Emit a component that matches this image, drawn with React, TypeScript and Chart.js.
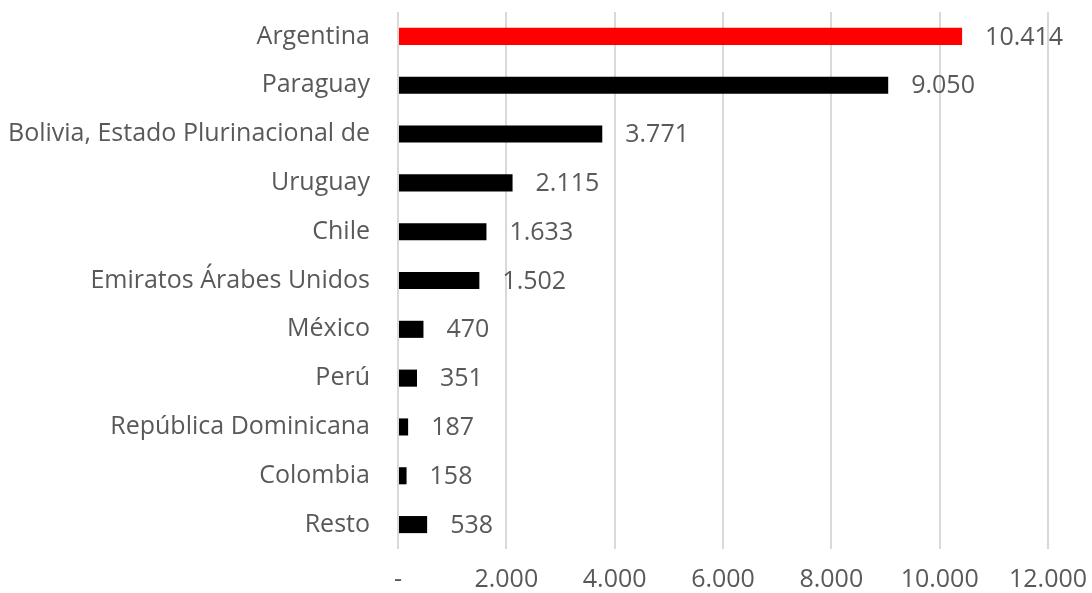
import React, { useEffect, useRef } from "react";
import { Chart, registerables } from "chart.js";

Chart.register(...registerables);

const categories = [
  "Argentina",
  "Paraguay",
  "Bolivia, Estado Plurinacional de",
  "Uruguay",
  "Chile",
  "Emiratos Árabes Unidos",
  "México",
  "Perú",
  "República Dominicana",
  "Colombia",
  "Resto",
];
const values = [10414, 9050, 3771, 2115, 1633, 1502, 470, 351, 187, 158, 538];
const barColors = ["#ff0000", "#000000", "#000000", "#000000", "#000000", "#000000", "#000000", "#000000", "#000000", "#000000", "#000000"];
const xMin = 0;
const xMax = 12000;
const xStep = 2000;

const fmt = (v: number) => {
  if (v === 0) return "-";
  return String(Math.round(v)).replace(/\B(?=(\d{3})+(?!\d))/g, ".");
};

const FONT = "'Open Sans', sans-serif";
const FSIZE = 25;
const TEXT = "#595959";

const valueLabels = {
  id: "valueLabels",
  afterDatasetsDraw(chart: any) {
    const ctx = chart.ctx;
    const meta = chart.getDatasetMeta(0);
    ctx.save();
    ctx.font = `${FSIZE}px ${FONT}`;
    ctx.fillStyle = TEXT;
    ctx.textAlign = "left";
    ctx.textBaseline = "middle";
    meta.data.forEach((bar: any, i: number) => {
      ctx.fillText(fmt(values[i]), bar.x + 23, bar.y + 1);
    });
    ctx.restore();
  },
};

export default function App() {
  const ref = useRef<HTMLCanvasElement>(null);
  useEffect(() => {
    document.body.style.margin = "0";
    const chart = new Chart(ref.current!, {
      type: "bar",
      data: {
        labels: categories,
        datasets: [
          {
            data: values,
            backgroundColor: barColors,
            barPercentage: 0.35,
            categoryPercentage: 1,
          },
        ],
      },
      options: {
        indexAxis: "y",
        animation: false,
        responsive: false,
        layout: { padding: { left: 0, right: 44, top: 12, bottom: 0 } },
        plugins: { legend: { display: false }, tooltip: { enabled: false } },
        scales: {
          x: {
            min: xMin,
            max: xMax,
            ticks: {
              stepSize: xStep,
              color: TEXT,
              font: { size: FSIZE, family: FONT },
              padding: 16,
              maxRotation: 0,
              autoSkip: false,
              callback: (v: any) => fmt(Number(v)),
            },
            grid: { color: "#d9d9d9", lineWidth: 2, drawTicks: false },
            border: { display: false },
            afterFit: (s: any) => {
              s.height = 44;
              s.paddingLeft = 0;
              s.paddingRight = 0;
            },
          },
          y: {
            ticks: {
              color: TEXT,
              font: { size: FSIZE, family: FONT },
              padding: 28,
              autoSkip: false,
            },
            grid: { display: false, drawTicks: false },
            border: { display: false },
            afterFit: (s: any) => {
              s.width = 398;
              s.paddingTop = 0;
              s.paddingBottom = 0;
            },
          },
        },
      },
      plugins: [valueLabels],
    });
    return () => chart.destroy();
  }, []);
  return (
    <div style={{ position: "absolute", left: 0, top: 0, width: 1092, height: 593, background: "#fff" }}>
      <canvas ref={ref} width={1092} height={593} />
    </div>
  );
}
